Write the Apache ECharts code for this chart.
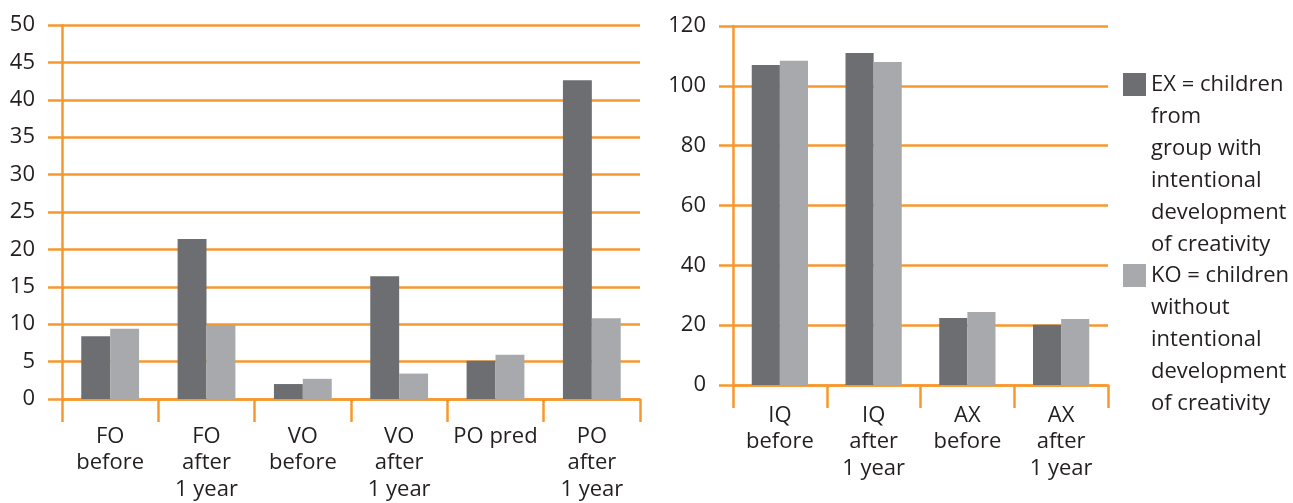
<!DOCTYPE html>
<html>
<head>
<meta charset="utf-8">
<script src="https://cdn.jsdelivr.net/npm/echarts@6/dist/echarts.min.js"></script>
<style>
  html, body { margin: 0; padding: 0; background: #ffffff; }
  #chart { width: 1293px; height: 503px; }
</style>
</head>
<body>
<div id="chart"></div>
<script>
// ---- data ----
const leftCategories = ['FO\nbefore', 'FO\nafter\n1 year', 'VO\nbefore', 'VO\nafter\n1 year', 'PO pred', 'PO\nafter\n1 year'];
const leftEX = [8.4, 21.4, 2.0, 16.4, 5.1, 42.6];
const leftKO = [9.4, 9.9, 2.7, 3.4, 5.9, 10.8];

const rightCategories = ['IQ\nbefore', 'IQ\nafter\n1 year', 'AX\nbefore', 'AX\nafter\n1 year'];
const rightEX = [107.0, 111.0, 22.4, 20.1];
const rightKO = [108.4, 108.0, 24.4, 22.1];

const seriesNames = ['EX', 'KO'];
const legendLabels = [
  'EX = children\nfrom\ngroup with\nintentional\ndevelopment\nof creativity',
  'KO = children\nwithout\nintentional\ndevelopment\nof creativity\n'
];

// ---- style ----
const ORANGE = '#f7982f';
const DARK = '#6d6e72';
const LIGHT = '#a7a9ac';
const TEXT = '#231f20';
const FONT = 'Open Sans';
const FS = 22;

const chart = echarts.init(document.getElementById('chart'), null, { renderer: 'canvas' });

function valueAxis(gridIndex, max, interval) {
  return {
    type: 'value', gridIndex, min: 0, max, interval,
    axisLine: { show: true, lineStyle: { color: ORANGE, width: 2.5 } },
    axisTick: { show: true, length: 14, lineStyle: { color: ORANGE, width: 2.5 } },
    splitLine: { show: true, lineStyle: { color: ORANGE, width: 2.5 } },
    axisLabel: { color: TEXT, fontFamily: FONT, fontSize: FS, margin: 27 }
  };
}
function catAxis(gridIndex, data, margin) {
  return {
    type: 'category', gridIndex, data,
    axisLine: { show: true, lineStyle: { color: ORANGE, width: 2.5 } },
    axisTick: { show: true, length: 23, alignWithLabel: false, lineStyle: { color: ORANGE, width: 2.5 } },
    axisLabel: { color: TEXT, fontFamily: FONT, fontSize: FS, lineHeight: 26.5, margin, interval: 0 }
  };
}
function bar(name, xi, data, color) {
  return {
    name, type: 'bar', xAxisIndex: xi, yAxisIndex: xi, data,
    barGap: '0%', barCategoryGap: '40%',
    itemStyle: { color }
  };
}

const iconPath = 'path://M0,4.5L23,4.5L23,27.5L0,27.5Z M0,0L0,0 M23,192L23,192';

chart.setOption({
  animation: false,
  backgroundColor: '#ffffff',
  grid: [
    { left: 62, top: 25, width: 578, height: 374 },
    { left: 733, top: 26, width: 375, height: 359 }
  ],
  xAxis: [catAxis(0, leftCategories, 24), catAxis(1, rightCategories, 17)],
  yAxis: [valueAxis(0, 50, 5), valueAxis(1, 120, 20)],
  legend: {
    orient: 'vertical', left: 1118, top: 63.5,
    itemWidth: 23, itemHeight: 192, itemGap: -1,
    selectedMode: false,
    data: seriesNames.map(n => ({ name: n, icon: iconPath })),
    formatter: name => legendLabels[seriesNames.indexOf(name)],
    textStyle: { color: TEXT, fontFamily: FONT, fontSize: FS, lineHeight: 32 }
  },
  series: [
    bar(seriesNames[0], 0, leftEX, DARK),
    bar(seriesNames[1], 0, leftKO, LIGHT),
    bar(seriesNames[0], 1, rightEX, DARK),
    bar(seriesNames[1], 1, rightKO, LIGHT)
  ]
});
</script>
</body>
</html>
